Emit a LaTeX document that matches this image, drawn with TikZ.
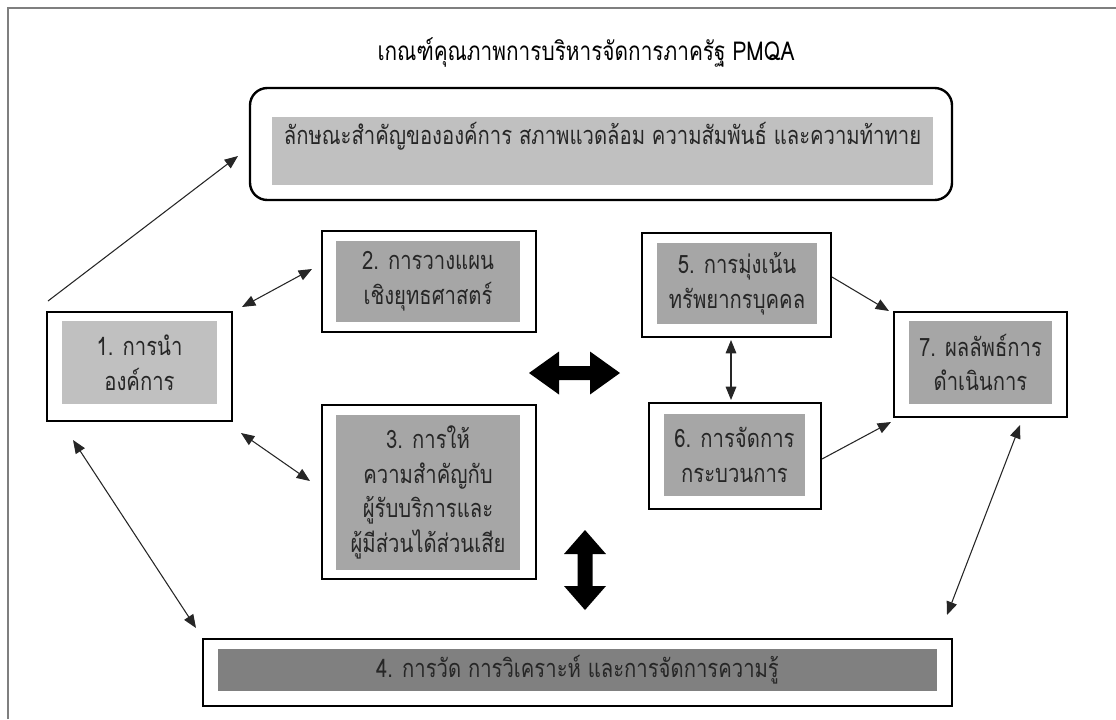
\documentclass[tikz,border=0pt]{standalone}
\usepackage{fontspec}
\newfontfamily\thai[Script=Thai, FakeStretch=0.8]{Loma}
\usetikzlibrary{arrows.meta}
\definecolor{gl}{HTML}{C0C0C0}
\definecolor{gm}{HTML}{A6A6A6}
\definecolor{gd}{HTML}{808080}
\definecolor{framec}{HTML}{7F7F7F}
\begin{document}
\begin{tikzpicture}[x=0.75pt,y=-0.75pt,
  sz/.style 2 args={minimum width=#1*0.75pt, minimum height=#2*0.75pt},
  outerbox/.style={draw=black, line width=1.8pt, inner sep=0pt},
  innerbox/.style={inner sep=0pt, align=center, text=black!85, font=\thai\fontsize{19pt}{26pt}\selectfont},
  conn/.style={line width=0.8pt, draw=black!85},
  tipone/.style={-{Triangle[length=10pt,width=8pt]}},
  tiptwo/.style={{Triangle[length=10pt,width=8pt]}-{Triangle[length=10pt,width=8pt]}},
]
\useasboundingbox (0,0) rectangle (1116,719);
\draw[framec, line width=1.5pt] (8,719) -- (8,8) -- (1116,8);

% title
\node[font=\thai\fontsize{19.5pt}{22pt}\selectfont, text=black] (title) at (586,52) {เกณฑ์คุณภาพการบริหารจัดการภาครัฐ PMQA};

% top rounded box
\node[outerbox, rounded corners=13pt, sz={702}{112}] (top) at (601,144) {};
\node[innerbox, fill=gl, sz={661}{68}] (topin) at (602.5,151) {};
\node[innerbox] (toptxt) at (602.5,136) {ลักษณะสำคัญขององค์การ สภาพแวดล้อม ความสัมพันธ์ และความท้าทาย};

% box 1
\node[outerbox, sz={185}{109}] (b1) at (139.5,366.5) {};
\node[innerbox, fill=gl, sz={155}{83}] (b1in) at (139.5,362.5) {1. การนำ\\องค์การ};

% box 2
\node[outerbox, sz={214}{101}] (b2) at (429,281.5) {};
\node[innerbox, fill=gm, sz={184}{81}] (b2in) at (428,281.5) {2. การวางแผน\\เชิงยุทธศาสตร์};

% box 3
\node[outerbox, sz={214}{174}] (b3) at (429,492) {};
\node[innerbox, fill=gm, sz={184}{155}] (b3in) at (428,492.5) {3. การให้\\ความสำคัญกับ\\ผู้รับบริการและ\\ผู้มีส่วนได้ส่วนเสีย};

% box 5
\node[outerbox, sz={189}{104}] (b5) at (736.5,285) {};
\node[innerbox, fill=gm, sz={160}{81}] (b5in) at (737,283.5) {5. การมุ่งเน้น\\ทรัพยากรบุคคล};

% box 6
\node[outerbox, sz={172}{106}] (b6) at (735,456) {};
\node[innerbox, fill=gm, sz={141}{82}] (b6in) at (734.5,455) {6. การจัดการ\\กระบวนการ};

% box 7
\node[outerbox, sz={173}{105}] (b7) at (980.5,364.5) {};
\node[innerbox, fill=gm, sz={143}{83}] (b7in) at (980.5,362.5) {7. ผลลัพธ์การ\\ดำเนินการ};

% box 4
\node[outerbox, sz={749}{67}] (b4) at (577.5,672.5) {};
\node[innerbox, fill=gd, sz={719}{42}] (b4in) at (577.5,670) {4. การวัด การวิเคราะห์ และการจัดการความรู้};

% connector ends
\coordinate (a1) at (48,301);   \coordinate (a2) at (238,156);
\coordinate (c12a) at (242,307); \coordinate (c12b) at (312,269);
\coordinate (c13a) at (241,433); \coordinate (c13b) at (310,481);
\coordinate (c57a) at (832,277); \coordinate (c57b) at (889,311);
\coordinate (c67a) at (822,459); \coordinate (c67b) at (891,422);
\coordinate (c56a) at (731,340); \coordinate (c56b) at (731,400);
\coordinate (c74a) at (1020,425); \coordinate (c74b) at (947,615);
\coordinate (c14a) at (73,440); \coordinate (c14b) at (196,628);

\draw[conn, tipone] (a1) -- (a2);
\draw[conn, tiptwo] (c12a) -- (c12b);
\draw[conn, tiptwo] (c13a) -- (c13b);
\draw[conn, tipone] (c57a) -- (c57b);
\draw[conn, tipone] (c67a) -- (c67b);
\draw[conn, tiptwo] (c56a) -- (c56b);
\draw[conn, tiptwo] (c74a) -- (c74b);
\draw[conn, tiptwo] (c14a) -- (c14b);

% block arrows
\fill[black] (529,373) -- (559,351.5) -- (559,366) -- (590,366) -- (590,351.5) -- (620,373)
  -- (590,394.5) -- (590,380) -- (559,380) -- (559,394.5) -- cycle;
\fill[black] (585,530) -- (606,554) -- (592.5,554) -- (592.5,586) -- (606,586) -- (585,610)
  -- (564,586) -- (577.5,586) -- (577.5,554) -- (564,554) -- cycle;
\end{tikzpicture}
\end{document}
